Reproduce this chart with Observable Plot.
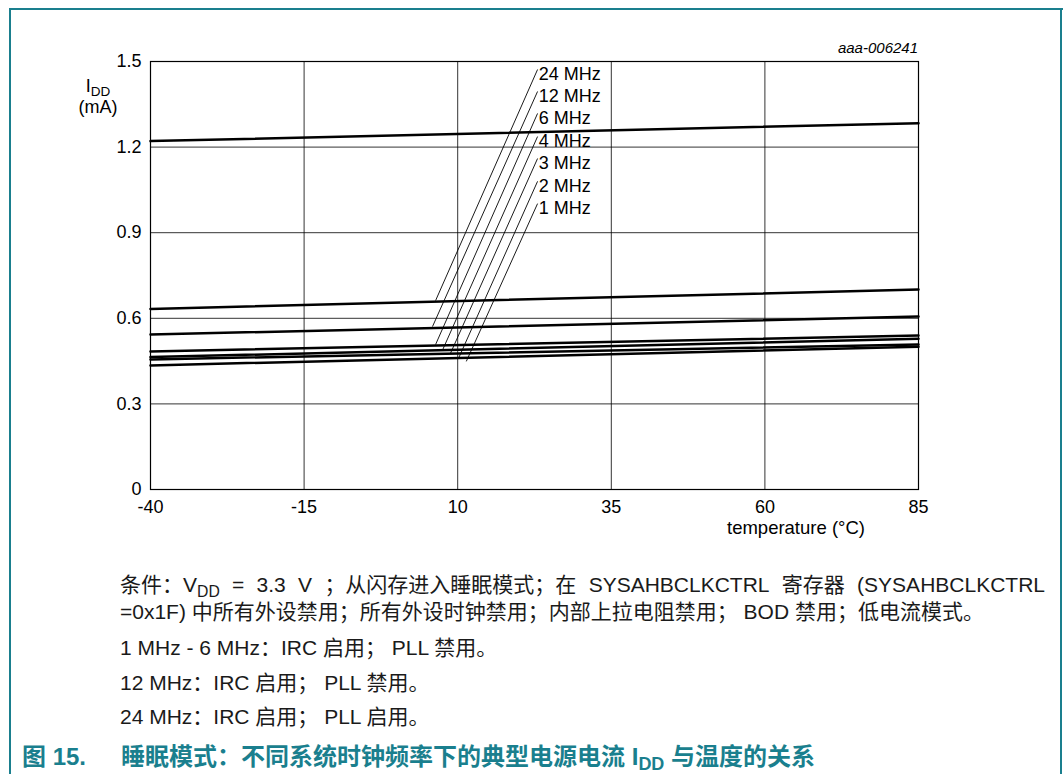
<!DOCTYPE html>
<html>
<head>
<meta charset="utf-8">
<script src="https://cdn.jsdelivr.net/npm/d3@7"></script>
<script src="https://cdn.jsdelivr.net/npm/@observablehq/plot@0.6"></script>
<style>
  html, body { margin: 0; padding: 0; background: #fff; }
  #page { position: relative; width: 1063px; height: 774px; overflow: hidden; background: #fff;
          font-family: "Liberation Sans", Arial, "Noto Sans CJK SC", sans-serif; color: #000; }
  .bt { position: absolute; background: #1a7f8e; }
  .abs { position: absolute; white-space: nowrap; }
  .note { position: absolute; left: 120px; font-size: 21px; line-height: 24px; color: #1a1a1a; white-space: nowrap;
          font-family: "Liberation Sans", Arial, "Noto Sans CJK SC", sans-serif; }
  .note sub, .cap sub, .ylab sub { font-size: 0.75em; vertical-align: -0.3em; line-height: 0; }
  #chart { position: absolute; left: 0; top: 0; }
  .flexline { display: flex; justify-content: space-between; width: 925px; }
</style>
</head>
<body>
<div id="page">
  <div class="bt" style="left:9px; top:8px; width:1054px; height:2px;"></div>
  <div class="bt" style="left:9px; top:8px; width:2px; height:766px;"></div>
  <div class="bt" style="left:1060px; top:8px; width:2px; height:766px;"></div>
  <div id="chart"></div>
  <div class="abs ylab" style="left:76px; top:77px; width:44px; font-size:18px; line-height:18px; text-align:center;">I<sub>DD</sub></div>
  <div class="abs ylab" style="left:76px; top:98px; width:44px; font-size:18px; line-height:18px; text-align:center;">(mA)</div>
  <div class="abs" style="left:727px; top:519px; font-size:18.5px; line-height:17px;">temperature (°C)</div>
  <div class="abs" style="right:145px; top:39px; font-size:15px; font-style:italic;">aaa-006241</div>
  <div class="note flexline" style="top:573px;"><span>条件：V<sub>DD</sub></span><span>=</span><span>3.3</span><span>V</span><span>；从闪存进入睡眠模式；在</span><span>SYSAHBCLKCTRL</span><span>寄存器</span><span>(SYSAHBCLKCTRL</span></div>
  <div class="note" style="top:600px;">=0x1F) 中所有外设禁用；所有外设时钟禁用；内部上拉电阻禁用； BOD 禁用；低电流模式。</div>
  <div class="note" style="top:636px;">1 MHz - 6 MHz：IRC 启用； PLL 禁用。</div>
  <div class="note" style="top:671px;">12 MHz：IRC 启用； PLL 禁用。</div>
  <div class="note" style="top:705px;">24 MHz：IRC 启用； PLL 启用。</div>
  <div class="abs cap" style="left:22px; top:743px; font-size:24px; line-height:28px; font-weight:bold; color:#1a7f8e;">图 15.<span style="display:inline-block; width:35px;"></span>睡眠模式：不同系统时钟频率下的典型电源电流 I<sub>DD</sub> 与温度的关系</div>
</div>
<script>
// ---- data ----
const temps = [-40, 85];
const freqs = ["24 MHz", "12 MHz", "6 MHz", "4 MHz", "3 MHz", "2 MHz", "1 MHz"];
const iddAtMinus40 = [1.221, 0.633, 0.543, 0.484, 0.464, 0.456, 0.435];
const iddAt85 = [1.284, 0.701, 0.606, 0.540, 0.528, 0.508, 0.500];

const xTicks = [-40, -15, 10, 35, 60, 85];
const yTicks = [0, 0.3, 0.6, 0.9, 1.2, 1.5];

// label annotation (temperature, mA)
const labelTemp = 23.2;
const labelmA = [1.454, 1.377, 1.300, 1.220, 1.143, 1.062, 0.985];
const leaderTopTemp = 23.0;
const leaderTopmA = [1.472, 1.395, 1.318, 1.237, 1.160, 1.080, 1.002];
const leaderEndTemp = [6.4, 5.9, 6.4, 7.5, 8.8, 10.1, 11.4];
const leaderEndmA = [0.662, 0.571, 0.508, 0.487, 0.476, 0.458, 0.449];

// ---- build tables ----
const lineData = [];
freqs.forEach((f, i) => {
  lineData.push({freq: f, t: temps[0], idd: iddAtMinus40[i]});
  lineData.push({freq: f, t: temps[1], idd: iddAt85[i]});
});
const labels = freqs.map((f, i) => ({freq: f, t: labelTemp, idd: labelmA[i]}));
const leaders = freqs.map((f, i) => ({freq: f, x1: leaderTopTemp, y1: leaderTopmA[i], x2: leaderEndTemp[i], y2: leaderEndmA[i]}));

const chart = Plot.plot({
  width: 1063,
  height: 545,
  marginLeft: 150,
  marginRight: 145,
  marginTop: 61,
  marginBottom: 56,
  style: {fontFamily: "'Liberation Sans', Arial, sans-serif", fontSize: "18px", background: "transparent", color: "#000"},
  x: {domain: [-40, 85], ticks: xTicks},
  y: {domain: [0, 1.5], ticks: yTicks},
  marks: [
    Plot.gridX(xTicks.slice(1, -1), {stroke: "#000", strokeOpacity: 0.8, strokeWidth: 1}),
    Plot.gridY(yTicks.slice(1, -1), {stroke: "#000", strokeOpacity: 0.8, strokeWidth: 1}),
    Plot.frame({stroke: "#000", strokeWidth: 1.2}),
    Plot.axisX({ticks: xTicks, tickSize: 0, tickPadding: 11, label: null, fontSize: 18,
      tickFormat: d => String(d)}),
    Plot.axisY({ticks: yTicks, tickSize: 0, tickPadding: 9, label: null, fontSize: 18,
      tickFormat: d => d === 0 ? "0" : d.toFixed(1)}),
    Plot.line(lineData, {x: "t", y: "idd", z: "freq", stroke: "#000", strokeWidth: 2.5}),
    Plot.link(leaders, {x1: "x1", y1: "y1", x2: "x2", y2: "y2", stroke: "#000", strokeWidth: 0.9}),
    Plot.text(labels, {x: "t", y: "idd", text: "freq", textAnchor: "start", fontSize: 18, fill: "#000"})
  ]
});
document.getElementById("chart").appendChild(chart);
</script>
</body>
</html>
